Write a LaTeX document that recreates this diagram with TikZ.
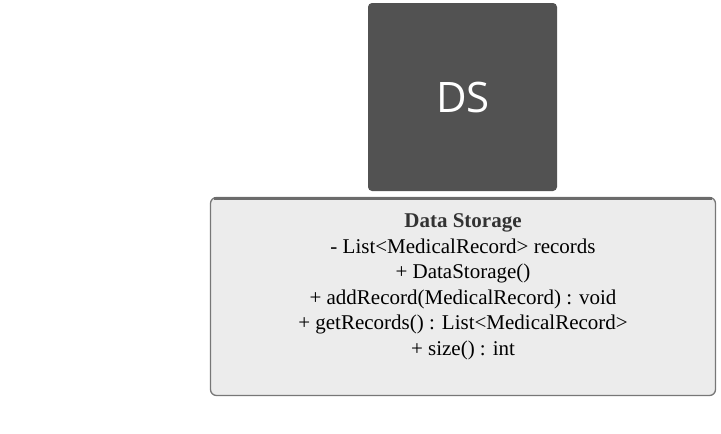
\documentclass[tikz,border=0pt]{standalone}
\usepackage{fontspec}
\setmainfont{Liberation Serif}
\newfontfamily\dsfont{Open Sans}
\definecolor{dsgray}{HTML}{525252}
\definecolor{boxfill}{HTML}{ECECEC}
\definecolor{boxline}{HTML}{777777}
\definecolor{titlecol}{HTML}{333333}
\begin{document}
\begin{tikzpicture}[x=1pt,y=-1pt,
  iconbox/.style={fill=dsgray,draw=none,rounded corners=4pt},
  classbox/.style={fill=boxfill,draw=boxline,line width=1.3pt,rounded corners=6pt},
  textline/.style={font=\fontsize{21}{21}\selectfont,inner sep=0pt,anchor=base}]
\useasboundingbox (0,0) rectangle (721,434);
\fill[iconbox] (368,3) rectangle (557,191);
\node[text=white,font=\dsfont\fontsize{42}{42}\selectfont,inner sep=0pt] (ds) at (463,97) {DS};
\draw[classbox] (210.5,197.5) rectangle (715.5,395.5);
\draw[boxline!90!black,line width=3pt] (214,198) -- (712,198);
\node[textline,font=\fontsize{21}{21}\selectfont\bfseries,text=titlecol] (t0) at (463,227.5) {Data Storage};
\node[textline] (t1) at (463,253) {- List<MedicalRecord> records};
\node[textline] (t2) at (463,278.5) {+ DataStorage()};
\node[textline] (t3) at (463,304) {+ addRecord(MedicalRecord) : void};
\node[textline] (t4) at (463,329.5) {+ getRecords() : List<MedicalRecord>};
\node[textline] (t5) at (463,355) {+ size() : int};
\end{tikzpicture}
\end{document}
